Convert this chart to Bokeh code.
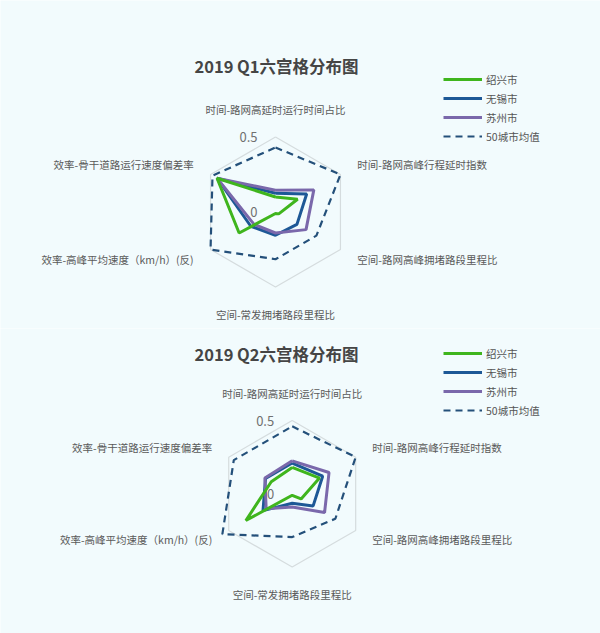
import numpy as np
from bokeh.plotting import figure
from bokeh.layouts import column
from bokeh.models import ColumnDataSource, Label, Legend, LegendItem, Range1d
from bokeh.core.properties import value
from bokeh.embed import file_html
from bokeh.resources import INLINE

# ---------------- data ----------------
indicators = [
    "时间-路网高延时运行时间占比",
    "时间-路网高峰行程延时指数",
    "空间-路网高峰拥堵路段里程比",
    "空间-常发拥堵路段里程比",
    "效率-高峰平均速度（km/h）(反)",
    "效率-骨干道路运行速度偏差率",
]
series_names = ["绍兴市", "无锡市", "苏州市", "50城市均值"]
titles = ["2019 Q1六宫格分布图", "2019 Q2六宫格分布图"]
radial_max = 0.5
radial_ticks = [0, 0.5]
radial_tick_labels = ["0", "0.5"]

q1_shaoxing = [0.100, 0.170, 0.025, 0.010, 0.280, 0.450]
q1_wuxi = [0.125, 0.240, 0.165, 0.155, 0.190, 0.450]
q1_suzhou = [0.145, 0.295, 0.235, 0.140, 0.165, 0.450]
q1_avg50 = [0.430, 0.500, 0.315, 0.315, 0.500, 0.485]

q2_shaoxing = [0.180, 0.215, 0.070, 0.010, 0.365, 0.165]
q2_wuxi = [0.210, 0.240, 0.165, 0.065, 0.230, 0.210]
q2_suzhou = [0.225, 0.290, 0.255, 0.090, 0.205, 0.215]
q2_avg50 = [0.460, 0.500, 0.340, 0.295, 0.550, 0.460]

# ---------------- style ----------------
FONT = "Noto Sans CJK SC"
BG = "#f2fbfd"
COLORS = ["#3fb51d", "#1d5896", "#7a68ab", "#24507a"]
W = 600

angles = np.deg2rad(90 - 60 * np.arange(len(indicators)))


def closed_xy(vals):
    v = np.asarray(vals, dtype=float)
    x = v * np.cos(angles)
    y = v * np.sin(angles)
    return list(np.append(x, x[0])), list(np.append(y, y[0]))


def make_radar(title, series, H, cx, cy, R, title_xy, legend_top):
    s = R / radial_max
    p = figure(width=W, height=H, output_backend="svg", toolbar_location=None,
               x_range=Range1d(-cx / s, (W - cx) / s),
               y_range=Range1d(-(H - cy) / s, cy / s),
               min_border=0, tools="")
    p.xaxis.visible = False
    p.yaxis.visible = False
    p.grid.visible = False
    p.outline_line_color = None
    p.background_fill_color = BG
    p.border_fill_color = BG

    # outer hexagon
    hx, hy = closed_xy([radial_max] * len(indicators))
    p.line(hx, hy, line_color="#d5dcde", line_width=1.2)

    renderers = {}
    draw_order = [3, 1, 2, 0]
    for i in draw_order:
        x, y = closed_xy(series[i])
        src = ColumnDataSource(dict(x=x, y=y))
        if i == 3:
            r = p.line("x", "y", source=src, line_color=COLORS[i], line_width=2.2,
                       line_dash="7 5")
        else:
            r = p.line("x", "y", source=src, line_color=COLORS[i], line_width=3)
        renderers[i] = r

    # indicator names
    for k, name in enumerate(indicators):
        c = np.cos(angles[k])
        sn = np.sin(angles[k])
        if abs(c) < 1e-6:
            rr = radial_max * 1.37
            align = "center"
        else:
            rr = radial_max * 1.26
            align = "left" if c > 0 else "right"
        p.text(x=[rr * c], y=[rr * sn], text=[name], text_font=value(FONT),
               text_font_size="10.5px", text_color="#5a5a5a",
               text_align=align, text_baseline="middle")

    # radial tick labels along the top axis
    p.text(x=[0] * len(radial_ticks), y=radial_ticks, text=radial_tick_labels,
           text_font=value(FONT), text_font_size="13px", text_color="#707070",
           text_align="right", text_baseline="middle", x_offset=-18)

    # title
    p.add_layout(Label(x=title_xy[0], y=H - title_xy[1], x_units="screen", y_units="screen",
                       text=title, text_font=FONT, text_font_size="16.5px",
                       text_font_style="bold", text_color="#454545",
                       text_align="center", text_baseline="middle"))

    # legend
    gh, sp = 16, 3
    leg_h = 4 * gh + 3 * sp
    items = [LegendItem(label=series_names[i], renderers=[renderers[i]]) for i in range(4)]
    legend = Legend(items=items, location=(443, H - (legend_top + leg_h)),
                    orientation="vertical", background_fill_alpha=0,
                    border_line_alpha=0, label_text_font=FONT,
                    label_text_font_size="10.5px", label_text_color="#555555",
                    glyph_width=39, glyph_height=gh, label_height=gh,
                    spacing=sp, padding=0, margin=0, label_standoff=4)
    p.add_layout(legend)
    return p


p1 = make_radar(titles[0], [q1_shaoxing, q1_wuxi, q1_suzhou, q1_avg50],
                H=328, cx=275, cy=211.5, R=75, title_xy=(276, 65), legend_top=71)
p2 = make_radar(titles[1], [q2_shaoxing, q2_wuxi, q2_suzhou, q2_avg50],
                H=305, cx=291.7, cy=165.3, R=73.3, title_xy=(276, 25), legend_top=17)

layout = column(p1, p2, spacing=0)
open("out.html", "w").write(file_html(layout, INLINE))
